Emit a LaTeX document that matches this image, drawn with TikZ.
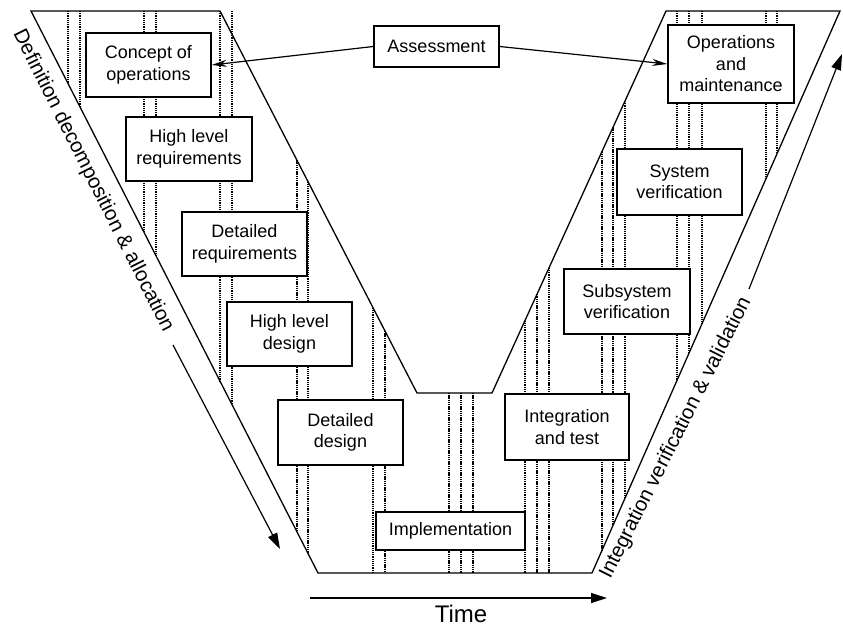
\documentclass[tikz,border=0pt]{standalone}
\usepackage{fontspec}
\setmainfont{Liberation Sans}
\usetikzlibrary{arrows.meta}
\begin{document}
\begin{tikzpicture}[x=1pt,y=-1pt,
  box/.style={draw,line width=1.5pt,fill=white,align=center,inner sep=0pt,
    font=\fontsize{18}{21.5}\selectfont},
  trace/.style={line width=1.1pt,black,dash pattern=on 1.3pt off 0.9pt},
  outline/.style={line width=1.3pt,line join=miter},
  flow/.style={line width=1.2pt,-{Triangle[length=16pt,width=10pt]}},
  link/.style={line width=1.2pt,-{Stealth[length=15pt,width=7pt]}},
  sidelabel/.style={font=\fontsize{20.5}{24}\selectfont,inner sep=0pt}
]
\useasboundingbox (0,0) rectangle (843,628);

% traceability dotted verticals
\foreach \x/\a/\b in {68/11/83.4, 80/11/107, 144/11/232.3, 156/11/255.8,
  220/11/381, 232/11/404.6, 297/160.3/531.9, 308/181.6/553.4,
  373/307.7/573, 385/331/573, 449/393/573, 461/393/573, 473/393/573,
  525/320.5/573, 537/294.2/573, 549/267.8/573,
  602/151.5/550.3, 613/127.3/525.4, 625/101/498.2,
  677/11/380.4, 689/11/353.2, 702/11/323.7, 766/11/178.7, 777/11/153.8}
  \draw[trace] (\x,\a) -- (\x,\b);

% V outline
\draw[outline] (31,11) -- (220,11) -- (417,393) -- (492,393) -- (666,11)
  -- (840,11) -- (592,573) -- (318,573) -- cycle;

% boxes
\node[box,minimum width=125pt,minimum height=64pt] (conops) at (148.5,65) {Concept of\\operations};
\node[box,minimum width=126pt,minimum height=64pt] (hlr) at (189,149) {High level\\requirements};
\node[box,minimum width=125pt,minimum height=64pt] (dr) at (244.5,244) {Detailed\\requirements};
\node[box,minimum width=125pt,minimum height=64pt] (hld) at (289.5,334) {High level\\design};
\node[box,minimum width=125pt,minimum height=65pt] (dd) at (340.5,432.5) {Detailed\\design};
\node[box,minimum width=149pt,minimum height=38pt] (impl) at (450.5,531) {Implementation};
\node[box,minimum width=124pt,minimum height=66pt] (it) at (567,427) {Integration\\and test};
\node[box,minimum width=126pt,minimum height=65pt] (ss) at (627,301.5) {Subsystem\\verification};
\node[box,minimum width=125pt,minimum height=66pt] (sv) at (679.5,182) {System\\verification};
\node[box,minimum width=126pt,minimum height=78pt] (om) at (731,64) {Operations\\and\\maintenance};
\node[box,minimum width=125pt,minimum height=41pt] (assess) at (436.5,46.5) {Assessment};

% assessment links
\draw[link] (assess.west) -- (conops.east);
\draw[link] (assess.east) -- (om.west);

% side labels and arrows
\node[sidelabel,rotate=-63.3] (deflab) at (93,181) {Definition decomposition \& allocation};
\coordinate (defa) at (173,345);
\coordinate (defb) at (280,549);
\draw[flow] (defa) -- (defb);

\node[sidelabel,rotate=63.2] (ivlab) at (676,438) {Integration verification \& validation};
\coordinate (iva) at (749,289);
\coordinate (ivb) at (842,54);
\draw[flow] (iva) -- (ivb);

% time axis
\coordinate (ta) at (310,598);
\coordinate (tb) at (607,598);
\draw[flow] (ta) -- (tb);
\node[font=\fontsize{24}{28}\selectfont,inner sep=0pt] (time) at (461,614) {Time};
\end{tikzpicture}
\end{document}
